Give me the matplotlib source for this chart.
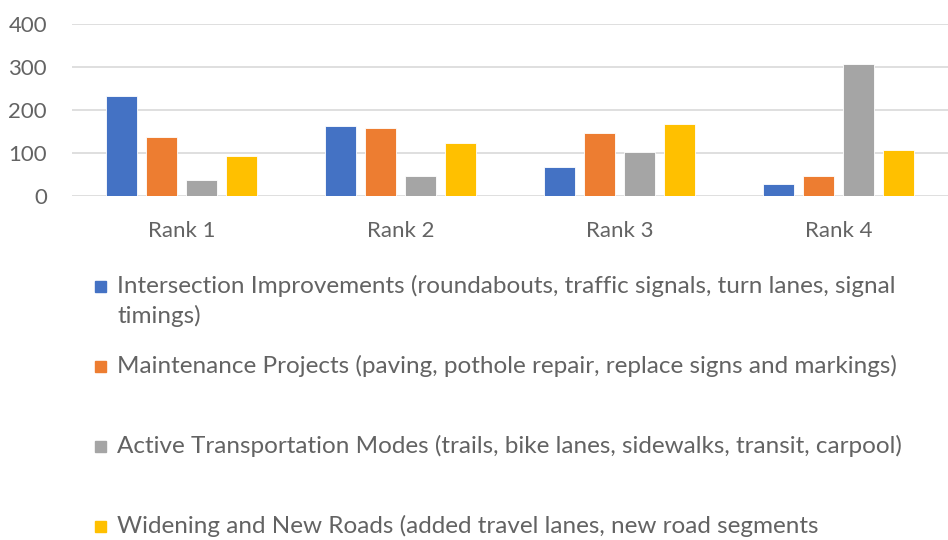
import numpy as np
import matplotlib
matplotlib.use("Agg")
import matplotlib.pyplot as plt
from matplotlib.patches import Rectangle

categories = ["Rank 1", "Rank 2", "Rank 3", "Rank 4"]
series_names = [
    "Intersection Improvements (roundabouts, traffic signals, turn lanes, signal\ntimings)",
    "Maintenance Projects (paving, pothole repair, replace signs and markings)",
    "Active Transportation Modes (trails, bike lanes, sidewalks, transit, carpool)",
    "Widening and New Roads (added travel lanes, new road segments",
]
intersection = [232, 162, 67, 28]
maintenance = [138, 158, 147, 47]
active = [37, 47, 102, 307]
widening = [93, 122, 167, 107]
y_ticks = [0, 100, 200, 300, 400]

colors = ["#4472C4", "#ED7D31", "#A5A5A5", "#FFC000"]
text_color = "#636363"
plt.rcParams['font.family'] = ['Lato', 'DejaVu Sans']

fig = plt.figure(figsize=(9.48, 5.4), dpi=100)
ax = fig.add_axes([0.076, 0.637, 0.924, 0.319])

x = np.arange(len(categories))
step = 0.183
width = 0.14
all_series = [intersection, maintenance, active, widening]
for i, vals in enumerate(all_series):
    ax.bar(x + (i - 1.5) * step, vals, width, color=colors[i],
           edgecolor="white", linewidth=0.6, zorder=3)

ax.set_xlim(-0.5, len(categories) - 0.5)
ax.set_ylim(0, 400)
ax.set_yticks(y_ticks)
ax.set_xticks(x)
ax.set_xticklabels(categories)
ax.tick_params(axis="both", length=0, colors=text_color, labelsize=16)
ax.tick_params(axis="x", pad=18)
ax.tick_params(axis="y", pad=18)
ax.grid(axis="y", color="#D9D9D9", linewidth=1.2, zorder=0)
for s in ax.spines.values():
    s.set_visible(False)

# legend drawn by hand so the swatch lines up with the first text line
W, H = 948, 540
legend_y = [287, 367, 447, 527]
for i, name in enumerate(series_names):
    y = legend_y[i]
    fig.patches.append(Rectangle((95 / W, 1 - (y + 5) / H), 11 / W, 11 / H,
                                 transform=fig.transFigure, color=colors[i]))
    fig.text(117 / W, 1 - (y - 12) / H, name, ha="left", va="top",
             fontsize=17.5, color=text_color, linespacing=1.42)

fig.savefig("out.png", dpi=100)
